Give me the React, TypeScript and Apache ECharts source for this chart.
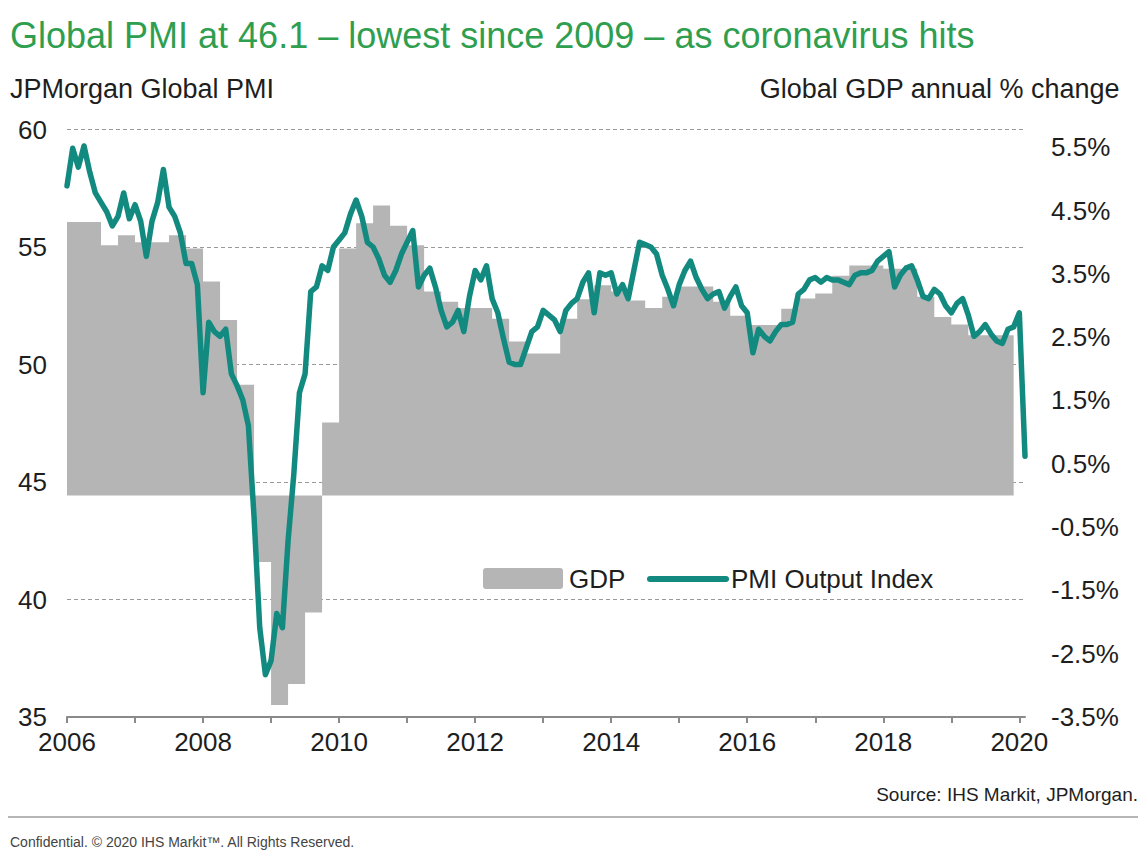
import React, { useEffect, useRef } from "react";
import * as echarts from "echarts";

// ---------- DATA ----------
const START_YEAR = 2006;
const X_MAX_YEAR = 2020 + 1 / 12; // Feb 2020 (last PMI month)

// JPMorgan Global PMI Output Index, monthly from Jan 2006 to Feb 2020
const pmi2006_2009 = [
  57.6, 59.2, 58.4, 59.3, 58.2, 57.3, 56.9, 56.5, 55.9, 56.3, 57.3, 56.2,
  56.8, 56.1, 54.6, 56.1, 56.9, 58.3, 56.7, 56.3, 55.6, 54.3, 54.3, 53.4,
  48.8, 51.8, 51.4, 51.2, 51.5, 49.6, 49.1, 48.5, 47.4, 43.5, 38.8, 36.8,
  37.4, 39.4, 38.8, 42.5, 45.3, 48.8, 49.6, 53.1, 53.3, 54.2, 54.0, 55.0,
];
const pmi2010_2013 = [
  55.3, 55.6, 56.4, 57.0, 56.3, 55.2, 55.0, 54.5, 53.8, 53.5, 54.0, 54.7,
  55.2, 55.7, 53.3, 53.8, 54.1, 53.3, 52.3, 51.6, 51.8, 52.3, 51.4, 52.9,
  54.0, 53.6, 54.2, 52.8, 52.2, 51.1, 50.1, 50.0, 50.0, 50.7, 51.4, 51.6,
  52.3, 52.1, 51.9, 51.4, 52.3, 52.6, 52.8, 53.5, 53.9, 52.2, 53.9, 53.8,
];
const pmi2014_2017 = [
  53.9, 53.0, 53.4, 52.8, 54.0, 55.2, 55.1, 55.0, 54.7, 53.8, 53.2, 52.5,
  53.4, 54.0, 54.4, 53.7, 53.2, 52.8, 53.0, 53.1, 52.4, 52.9, 53.3, 52.5,
  52.2, 50.5, 51.5, 51.2, 51.0, 51.4, 51.7, 51.7, 51.8, 53.0, 53.2, 53.6,
  53.7, 53.5, 53.7, 53.6, 53.6, 53.5, 53.4, 53.8, 53.9, 53.9, 54.0, 54.4,
];
const pmi2018_2020 = [
  54.6, 54.8, 53.3, 53.8, 54.1, 54.2, 53.6, 52.9, 52.8, 53.2, 53.0, 52.5,
  52.2, 52.6, 52.8, 52.1, 51.2, 51.4, 51.7, 51.3, 51.0, 50.9, 51.5, 51.6,
  52.2, 46.1,
];

// Global GDP annual % change, quarterly from 2006 Q1 to 2019 Q4
const gdpQuarterly = [
  4.32, 4.32, 3.95, 4.11,
  4.0, 4.0, 4.11, 3.9,
  3.38, 2.77, 1.75, -1.05,
  -3.31, -2.98, -1.85, 1.15,
  3.9, 4.3, 4.58, 4.26,
  3.95, 3.22, 3.06, 2.96,
  2.96, 2.79, 2.43, 2.24,
  2.24, 2.79, 3.1, 3.32,
  3.22, 3.08, 2.96, 3.14,
  3.3, 3.3, 3.06, 2.84,
  2.69, 2.69, 2.95, 3.11,
  3.19, 3.47, 3.63, 3.63,
  3.58, 3.58, 3.14, 2.82,
  2.7, 2.53, 2.53, 2.53,
];
const GDP_END_YEAR = 2019 + 11 / 12;

const leftTicks = [35, 40, 45, 50, 55, 60];
const rightTickLabels = [-3.5, -2.5, -1.5, -0.5, 0.5, 1.5, 2.5, 3.5, 4.5, 5.5];
const labelledYears = [2006, 2008, 2010, 2012, 2014, 2016, 2018, 2020];

const TITLE = "Global PMI at 46.1 \u2013 lowest since 2009 \u2013 as coronavirus hits";
const LEFT_HEADER = "JPMorgan Global PMI";
const RIGHT_HEADER = "Global GDP annual % change";
const LEGEND_GDP = "GDP";
const LEGEND_PMI = "PMI Output Index";
const SOURCE = "Source: IHS Markit, JPMorgan.";
const FOOTER = "Confidential. \u00a9 2020 IHS Markit\u2122. All Rights Reserved.";

// ---------- STYLE ----------
const FONT = "'Liberation Sans', Arial, Helvetica, sans-serif";
const TEAL = "#138a80";
const GREY = "#b5b5b5";
const GREEN = "#2f9e4f";
const TEXT = "#1e1e1e";

export default function App() {
  const ref = useRef<HTMLDivElement>(null);

  useEffect(() => {
    if (!ref.current) return;
    const chart = echarts.init(ref.current, undefined, { renderer: "svg" });

    const pmiValues = [...pmi2006_2009, ...pmi2010_2013, ...pmi2014_2017, ...pmi2018_2020];
    const pmiData = pmiValues.map((v, i) => [START_YEAR + i / 12, v]);
    const gdpData = gdpQuarterly.map((v, i) => [START_YEAR + i / 4, v]);
    gdpData.push([GDP_END_YEAR, gdpQuarterly[gdpQuarterly.length - 1]]);

    const option: any = {
      animation: false,
      backgroundColor: "#ffffff",
      textStyle: { fontFamily: FONT },
      grid: { left: 67, right: 117, top: 129.5, bottom: 133, containLabel: false },
      xAxis: {
        type: "value",
        min: START_YEAR,
        max: X_MAX_YEAR,
        interval: 1,
        axisLine: { show: true, onZero: false, lineStyle: { color: "#8a8a8a", width: 2 } },
        axisTick: { show: true, length: 6, lineStyle: { color: "#8a8a8a", width: 2 } },
        splitLine: { show: false },
        axisLabel: {
          fontSize: 26,
          color: TEXT,
          fontFamily: FONT,
          margin: 12,
          showMaxLabel: false,
          formatter: (v: number) =>
            labelledYears.includes(Math.round(v)) && Math.abs(v - Math.round(v)) < 1e-6
              ? String(Math.round(v))
              : "",
        },
      },
      yAxis: [
        {
          type: "value",
          min: leftTicks[0],
          max: leftTicks[leftTicks.length - 1],
          interval: 5,
          axisLine: { show: false },
          axisTick: { show: false },
          splitLine: { show: true, lineStyle: { color: "#9a9a9a", width: 1.2, type: [4, 3] } },
          axisLabel: { fontSize: 26, color: TEXT, fontFamily: FONT, margin: 20 },
        },
        {
          type: "value",
          min: rightTickLabels[0],
          max: 5.78,
          interval: 1,
          axisLine: { show: false },
          axisTick: { show: false },
          splitLine: { show: false },
          axisLabel: {
            fontSize: 26,
            color: TEXT,
            fontFamily: FONT,
            margin: 26,
            formatter: (v: number) =>
              rightTickLabels.some((t) => Math.abs(t - v) < 1e-6) ? `${v.toFixed(1)}%` : "",
          },
        },
      ],
      series: [
        {
          name: LEGEND_GDP,
          type: "line",
          yAxisIndex: 1,
          step: "end",
          data: gdpData,
          symbol: "none",
          color: GREY,
          lineStyle: { width: 0, color: GREY },
          areaStyle: { color: GREY, opacity: 1 },
          z: 1,
        },
        {
          name: LEGEND_PMI,
          type: "line",
          yAxisIndex: 0,
          data: pmiData,
          symbol: "none",
          color: TEAL,
          lineStyle: { width: 5.5, color: TEAL, cap: "round", join: "round" },
          z: 3,
        },
      ],
      graphic: [
        {
          type: "text",
          left: 10,
          top: 17,
          style: { text: TITLE, fontSize: 36, fill: GREEN, fontFamily: FONT },
        },
        {
          type: "text",
          left: 10,
          top: 75,
          style: { text: LEFT_HEADER, fontSize: 27, fill: TEXT, fontFamily: FONT },
        },
        {
          type: "text",
          right: 22,
          top: 75,
          style: { text: RIGHT_HEADER, fontSize: 27, fill: TEXT, fontFamily: FONT },
        },
        // legend
        {
          type: "rect",
          shape: { x: 483, y: 568, width: 80, height: 21, r: 3 },
          style: { fill: GREY },
          z: 10,
        },
        {
          type: "text",
          x: 569,
          y: 579,
          style: { text: LEGEND_GDP, fontSize: 26, fill: TEXT, fontFamily: FONT, textVerticalAlign: "middle" },
          z: 10,
        },
        {
          type: "line",
          shape: { x1: 650, y1: 579, x2: 726, y2: 579 },
          style: { stroke: TEAL, lineWidth: 6, lineCap: "round" },
          z: 10,
        },
        {
          type: "text",
          x: 731,
          y: 579,
          style: { text: LEGEND_PMI, fontSize: 26, fill: TEXT, fontFamily: FONT, textVerticalAlign: "middle" },
          z: 10,
        },
        // source & footer
        {
          type: "text",
          right: 4,
          top: 785,
          style: { text: SOURCE, fontSize: 19, fill: TEXT, fontFamily: FONT },
        },
        {
          type: "line",
          shape: { x1: 8, y1: 817, x2: 1138, y2: 817 },
          style: { stroke: "#9c9c9c", lineWidth: 1.5 },
        },
        {
          type: "text",
          left: 10,
          top: 835,
          style: { text: FOOTER, fontSize: 14, fill: "#444", fontFamily: FONT },
        },
      ],
    };

    chart.setOption(option);
    return () => chart.dispose();
  }, []);

  return (
    <div
      ref={ref}
      style={{ position: "fixed", left: 0, top: 0, width: 1142, height: 850, background: "#fff" }}
    />
  );
}
